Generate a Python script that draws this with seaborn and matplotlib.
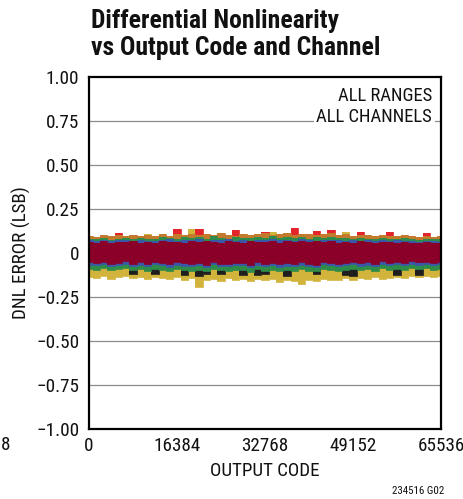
import os
import numpy as np
import pandas as pd
import matplotlib
matplotlib.use('Agg')
import matplotlib.pyplot as plt
import matplotlib.font_manager as fm
import seaborn as sns

# output code grid the envelopes were read on (49 samples across the range)
CODES = np.linspace(0, 65536, 49)
XTICKS = [0, 16384, 32768, 49152, 65536]
YTICKS = [-1.0, -0.75, -0.5, -0.25, 0, 0.25, 0.5, 0.75, 1.0]
YTICK_LABELS = ['\u22121.00', '\u22120.75', '\u22120.50', '\u22120.25', '0', '0.25', '0.50', '0.75', '1.00']

# per-channel DNL envelopes (LSB)
YELLOW_LO = [-0.134, -0.141, -0.130, -0.145, -0.137, -0.132, -0.143,
             -0.138, -0.147, -0.135, -0.142, -0.149, -0.139, -0.153,
             -0.144, -0.192, -0.151, -0.146, -0.157, -0.143, -0.154,
             -0.148, -0.161, -0.145, -0.156, -0.150, -0.164, -0.153,
             -0.159, -0.175, -0.152, -0.161, -0.147, -0.156, -0.151,
             -0.144, -0.155, -0.142, -0.149, -0.137, -0.146, -0.140,
             -0.135, -0.143, -0.132, -0.138, -0.129, -0.136, -0.131]
YELLOW_HI = [0.000, 0.010, 0.000, 0.005, 0.000, 0.010, 0.000,
             0.005, 0.110, 0.000, 0.010, 0.000, 0.005, 0.000,
             0.138, 0.000, 0.010, 0.000, 0.005, 0.000, 0.010,
             0.000, 0.005, 0.000, 0.010, 0.122, 0.000, 0.005,
             0.000, 0.010, 0.000, 0.005, 0.000, 0.010, 0.000,
             0.118, 0.000, 0.005, 0.000, 0.010, 0.000, 0.005,
             0.000, 0.010, 0.000, 0.005, 0.000, 0.010, 0.000]
RED_HI = [0.080, 0.082, 0.079, 0.085, 0.112, 0.081, 0.078,
          0.083, 0.080, 0.086, 0.079, 0.084, 0.135, 0.081,
          0.082, 0.138, 0.080, 0.085, 0.079, 0.083, 0.132,
          0.081, 0.084, 0.080, 0.120, 0.082, 0.079, 0.085,
          0.140, 0.081, 0.083, 0.125, 0.080, 0.128, 0.082,
          0.079, 0.084, 0.122, 0.080, 0.083, 0.081, 0.118,
          0.082, 0.079, 0.084, 0.080, 0.115, 0.081, 0.078]
BLACK_LO = [-0.075, -0.078, -0.074, -0.080, -0.076, -0.079, -0.118,
            -0.077, -0.075, -0.122, -0.078, -0.076, -0.079, -0.126,
            -0.080, -0.129, -0.121, -0.077, -0.117, -0.079, -0.076,
            -0.124, -0.078, -0.127, -0.119, -0.077, -0.080, -0.130,
            -0.076, -0.079, -0.078, -0.121, -0.075, -0.080, -0.077,
            -0.125, -0.128, -0.076, -0.079, -0.078, -0.077, -0.080,
            -0.123, -0.076, -0.079, -0.126, -0.077, -0.080, -0.076]
ORANGE_HI = [0.098, 0.093, 0.100, 0.094, 0.102, 0.096, 0.104,
             0.095, 0.101, 0.099, 0.106, 0.097, 0.108, 0.103,
             0.110, 0.100, 0.107, 0.102, 0.111, 0.105, 0.099,
             0.109, 0.104, 0.108, 0.112, 0.101, 0.109, 0.113,
             0.105, 0.110, 0.106, 0.102, 0.109, 0.111, 0.103,
             0.107, 0.099, 0.104, 0.101, 0.096, 0.103, 0.098,
             0.094, 0.100, 0.095, 0.092, 0.098, 0.093, 0.096]
GREEN_HI = [0.082, 0.078, 0.085, 0.076, 0.080, 0.084, 0.079,
            0.087, 0.081, 0.077, 0.089, 0.083, 0.079, 0.092,
            0.085, 0.090, 0.082, 0.094, 0.086, 0.080, 0.091,
            0.088, 0.083, 0.093, 0.087, 0.096, 0.084, 0.090,
            0.086, 0.092, 0.081, 0.089, 0.085, 0.091, 0.083,
            0.088, 0.080, 0.086, 0.082, 0.079, 0.085, 0.081,
            0.077, 0.083, 0.079, 0.075, 0.081, 0.078, 0.080]
GREEN_LO = [-0.090, -0.096, -0.087, -0.099, -0.093, -0.088, -0.098,
            -0.092, -0.101, -0.089, -0.095, -0.103, -0.091, -0.098,
            -0.100, -0.094, -0.105, -0.091, -0.099, -0.102, -0.094,
            -0.097, -0.106, -0.092, -0.101, -0.095, -0.104, -0.098,
            -0.102, -0.093, -0.100, -0.105, -0.091, -0.097, -0.101,
            -0.095, -0.089, -0.098, -0.093, -0.100, -0.087, -0.094,
            -0.090, -0.096, -0.085, -0.092, -0.088, -0.094, -0.089]
BLUE_HI = [0.072, 0.068, 0.075, 0.066, 0.071, 0.074, 0.069,
           0.076, 0.070, 0.067, 0.073, 0.078, 0.069, 0.074,
           0.071, 0.077, 0.068, 0.075, 0.072, 0.079, 0.070,
           0.074, 0.069, 0.076, 0.071, 0.078, 0.072, 0.075,
           0.070, 0.077, 0.073, 0.069, 0.076, 0.071, 0.074,
           0.068, 0.073, 0.070, 0.075, 0.067, 0.072, 0.069,
           0.071, 0.066, 0.070, 0.064, 0.069, 0.067, 0.065]
BLUE_LO = [-0.066, -0.071, -0.063, -0.074, -0.068, -0.062, -0.072,
           -0.067, -0.075, -0.064, -0.070, -0.077, -0.066, -0.072,
           -0.074, -0.069, -0.078, -0.065, -0.073, -0.076, -0.068,
           -0.071, -0.079, -0.066, -0.074, -0.069, -0.077, -0.072,
           -0.075, -0.067, -0.073, -0.078, -0.065, -0.071, -0.074,
           -0.069, -0.063, -0.072, -0.067, -0.074, -0.061, -0.068,
           -0.064, -0.070, -0.060, -0.066, -0.062, -0.068, -0.063]
MAROON_HI = [0.062, 0.058, 0.066, 0.055, 0.063, 0.060, 0.067,
             0.059, 0.064, 0.057, 0.068, 0.061, 0.065, 0.058,
             0.066, 0.060, 0.069, 0.062, 0.057, 0.067, 0.063,
             0.058, 0.068, 0.061, 0.065, 0.070, 0.059, 0.066,
             0.063, 0.069, 0.060, 0.066, 0.062, 0.068, 0.057,
             0.064, 0.059, 0.066, 0.061, 0.058, 0.063, 0.060,
             0.056, 0.062, 0.058, 0.054, 0.060, 0.057, 0.059]
MAROON_LO = [-0.052, -0.058, -0.049, -0.061, -0.055, -0.047, -0.060,
             -0.054, -0.063, -0.050, -0.057, -0.065, -0.053, -0.059,
             -0.062, -0.056, -0.066, -0.051, -0.060, -0.064, -0.055,
             -0.058, -0.067, -0.053, -0.061, -0.056, -0.064, -0.059,
             -0.063, -0.054, -0.060, -0.066, -0.052, -0.058, -0.062,
             -0.056, -0.050, -0.059, -0.054, -0.061, -0.048, -0.055,
             -0.051, -0.057, -0.046, -0.053, -0.049, -0.055, -0.050]

# drawing order bottom -> top: (name, colour, lower edge, upper edge)
channels = [
    ('yellow', '#d2b43c', YELLOW_LO, YELLOW_HI),
    ('red', '#e3242b', 0.0, RED_HI),
    ('black', '#1e1e1e', BLACK_LO, 0.0),
    ('orange', '#c47a2c', 0.0, ORANGE_HI),
    ('green', '#2e8c48', GREEN_LO, GREEN_HI),
    ('blue', '#3a58a8', BLUE_LO, BLUE_HI),
    ('maroon', '#8a0029', MAROON_LO, MAROON_HI),
]


def find_font(names):
    files = {os.path.basename(f).lower(): f for f in fm.findSystemFonts()}
    for want in names:
        if want in files:
            return files[want]
    return None


reg_file = find_font(['liberationsansnarrow-regular.ttf', 'notosans-condensed.ttf',
                      'robotocondensed-regular.ttf', 'dejavusanscondensed.ttf',
                      'liberationsans-regular.ttf'])
bold_file = find_font(['liberationsansnarrow-bold.ttf', 'notosans-condensedbold.ttf',
                       'robotocondensed-bold.ttf', 'dejavusanscondensed-bold.ttf',
                       'liberationsans-bold.ttf'])
REG = fm.FontProperties(fname=reg_file) if reg_file else fm.FontProperties(family='DejaVu Sans')
BOLD = fm.FontProperties(fname=bold_file) if bold_file else fm.FontProperties(family='DejaVu Sans', weight='bold')


def fp(base, size):
    p = base.copy()
    p.set_size(size)
    return p


sns.set_theme(style='white')

fig = plt.figure(figsize=(4.64, 4.99), dpi=100)
renderer = fig.canvas.get_renderer()


def size_for(s, target_px, base=REG):
    # font size whose rendered width matches the reference width
    t = fig.text(0, 0, s, fontproperties=fp(base, 12))
    w = t.get_window_extent(renderer).width
    t.remove()
    return 12 * target_px / w


tick_size = size_for('16384', 47)
label_size = size_for('OUTPUT CODE', 109)
ann_size = size_for('ALL CHANNELS', 116)
title_size = size_for('Differential Nonlinearity', 248, BOLD)
note_size = size_for('234516 G02', 52)

ax = fig.add_axes([0.1918, 0.1403, 0.7586, 0.7054])

for k, (name, color, lo, hi) in enumerate(channels):
    z = 2 + 2 * k
    ax.fill_between(CODES, lo, hi, step='mid', color=color, lw=0, zorder=z)
    edges = pd.DataFrame({'code': CODES, 'hi': np.broadcast_to(hi, CODES.shape),
                          'lo': np.broadcast_to(lo, CODES.shape)})
    for col in ['hi', 'lo']:
        sns.lineplot(data=edges, x='code', y=col, ax=ax, color=color, lw=0.6,
                     drawstyle='steps-mid', zorder=z + 1, legend=False)

# horizontal grid
for y in YTICKS[1:-1]:
    ax.axhline(y, color='#8c8c8c', lw=0.9, zorder=1)

ax.set_xlim(0, 65536)
ax.set_ylim(-1, 1)
ax.set_xticks(XTICKS)
ax.set_xticklabels([str(t) for t in XTICKS], fontproperties=fp(REG, tick_size), color='#111111')
ax.set_yticks(YTICKS)
ax.set_yticklabels(YTICK_LABELS, fontproperties=fp(REG, tick_size), color='#111111')
ax.tick_params(length=0)
ax.tick_params(axis='y', pad=7)
ax.tick_params(axis='x', pad=6)
ax.set_xlabel('OUTPUT CODE', fontproperties=fp(REG, label_size), labelpad=5, color='#111111')
ax.set_ylabel('DNL ERROR (LSB)', fontproperties=fp(REG, label_size), color='#111111')
ax.yaxis.set_label_coords(-0.165, 0.5)
for s in ax.spines.values():
    s.set_color('black')
    s.set_linewidth(1.6)
    s.set_zorder(30)

ax.text(0.975, 0.972, 'ALL RANGES\nALL CHANNELS', transform=ax.transAxes,
        ha='right', va='top', fontproperties=fp(REG, ann_size), linespacing=1.2, color='#111111',
        bbox=dict(facecolor='white', edgecolor='none', pad=2), zorder=25)

fig.text(91 / 464, 1 - 28 / 499, 'Differential Nonlinearity', ha='left', va='baseline',
         fontproperties=fp(BOLD, title_size), color='#111111')
fig.text(91 / 464, 1 - 55 / 499, 'vs Output Code and Channel', ha='left', va='baseline',
         fontproperties=fp(BOLD, title_size), color='#111111')
fig.text(0.002, 1 - 445 / 499, '8', ha='left', va='center', fontproperties=fp(REG, tick_size), color='#111111')
fig.text(444 / 464, 1 - 494 / 499, '234516 G02', ha='right', va='baseline',
         fontproperties=fp(REG, note_size), color='#111111')

fig.savefig('out.png', dpi=100)
